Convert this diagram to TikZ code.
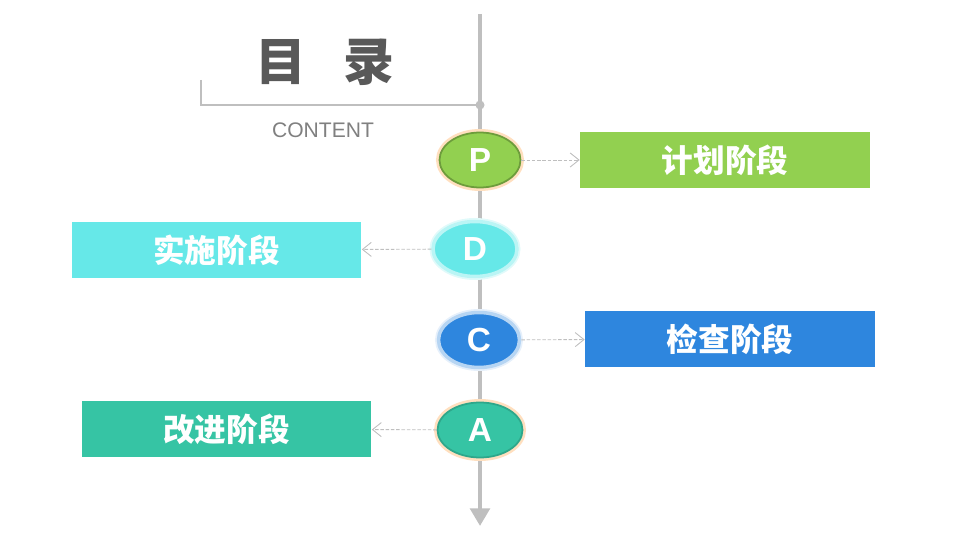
\documentclass[tikz,border=0pt]{standalone}
\usepackage{fontspec}
\setmainfont{Liberation Sans}
\newfontfamily\cjk{Noto Sans CJK SC}
\usetikzlibrary{arrows.meta,shapes.geometric}

\definecolor{axisgray}{HTML}{BFBFBF}
\definecolor{titlegray}{HTML}{595959}
\definecolor{pgreen}{HTML}{92D050}
\definecolor{dcyan}{HTML}{66E8E8}
\definecolor{cblue}{HTML}{2E86DE}
\definecolor{ateal}{HTML}{36C4A4}

\begin{document}
\begin{tikzpicture}[x=0.02cm, y=-0.02cm, >=Stealth,
  phase/.style={ellipse, minimum width=1.62cm, minimum height=1.1cm, inner sep=0pt,
    font=\fontsize{19}{19}\selectfont\bfseries, text=white},
  stagebox/.style={rectangle, minimum width=5.8cm, minimum height=1.12cm, inner sep=0pt,
    font=\cjk\fontsize{18}{18}\selectfont\bfseries, text=white},
  link/.style={axisgray, line width=0.5pt, dash pattern=on 2pt off 1pt,
    -{Straight Barb[length=5pt, width=8pt, line width=0.5pt]}}]
  \useasboundingbox (0,0) rectangle (960,540);
  % axis and bracket
  \coordinate (top) at (480,14);
  \coordinate (bottom) at (480,526);
  \coordinate (corner) at (480,105);
  \coordinate (hook) at (201,80);
  \draw[axisgray, line width=2.4pt, -{Triangle[length=10pt, width=11pt]}] (top) -- (bottom);
  \draw[axisgray, line width=1.6pt] (hook) |- (corner);
  \fill[axisgray] (corner) circle (4.5);
  \node[text=titlegray, font=\cjk\fontsize{29}{29}\selectfont\bfseries] (title) at (325,62) {目\hspace{0.72em}录};
  \node[text=gray, font=\fontsize{12}{12}\selectfont] (content) at (323,130) {CONTENT};
  % phases
  \node[phase, fill=pgreen, draw=pgreen!75!black, line width=1pt,
    preaction={draw=orange!25, line width=4pt}] (P) at (480,160) {P};
  \node[phase, fill=dcyan, draw=dcyan!45, line width=2pt,
    preaction={draw=dcyan!20, line width=4pt}, minimum width=1.68cm] (D) at (475,249) {D};
  \node[phase, fill=cblue, draw=cblue!35, line width=2pt,
    preaction={draw=cblue!12, line width=4pt}] (C) at (479,340) {C};
  \node[phase, fill=ateal, draw=ateal!85!black, line width=1pt,
    preaction={draw=orange!25, line width=4pt}, minimum width=1.7cm] (A) at (480,430) {A};
  % stage boxes
  \node[stagebox, fill=pgreen] (plan) at (725,160) {计划阶段};
  \node[stagebox, fill=dcyan] (doing) at (216.5,250) {实施阶段};
  \node[stagebox, fill=cblue] (check) at (730,339) {检查阶段};
  \node[stagebox, fill=ateal] (act) at (226.5,429) {改进阶段};
  % links
  \draw[link] (P) -- (plan);
  \draw[link] (D) -- (doing);
  \draw[link] (C) -- (check);
  \draw[link] (A) -- (act);
\end{tikzpicture}
\end{document}
